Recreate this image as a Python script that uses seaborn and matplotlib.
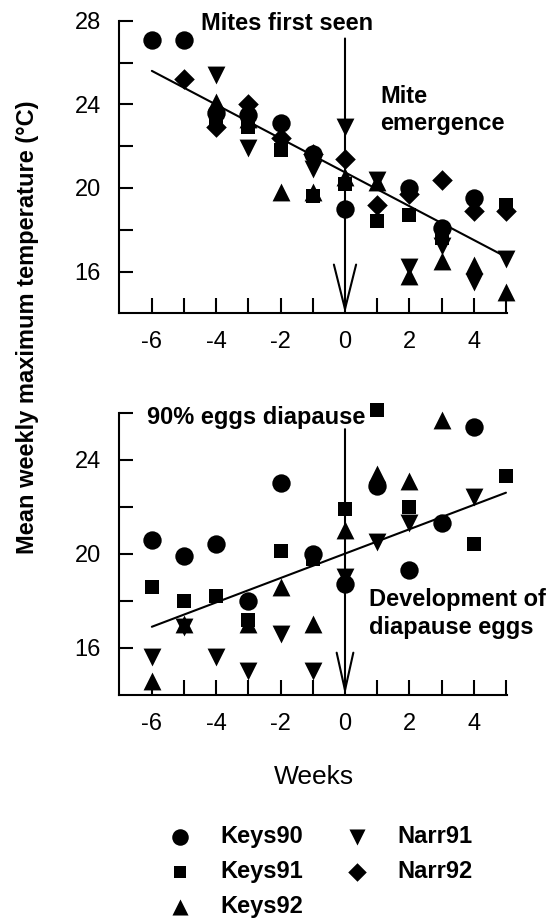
import numpy as np
import pandas as pd
import matplotlib
matplotlib.use('Agg')
import matplotlib.pyplot as plt
import seaborn as sns

nan = np.nan

# weeks relative to the event
weeks = [-6, -5, -4, -3, -2, -1, 0, 1, 2, 3, 4, 5]
week_labels = ['-6', '', '-4', '', '-2', '', '0', '', '2', '', '4', '']

series = ['Keys90', 'Keys91', 'Keys92', 'Narr91', 'Narr92']
markers = ['o', 's', '^', 'v', 'D']
sizes = [175, 100, 165, 165, 110]

# top panel: mites first seen / mite emergence
top_keys90 = [27.1, 27.1, 23.6, 23.5, 23.1, 21.6, 19.0, nan, 20.0, 18.1, 19.5, nan]
top_keys91 = [nan, nan, 23.3, 22.9, 21.8, 19.6, 20.2, 18.4, 18.7, 17.6, nan, 19.2]
top_keys92 = [nan, nan, 24.1, 23.3, 19.8, 19.8, 20.5, 20.3, 15.8, 16.5, 16.3, 15.0]
top_narr91 = [nan, nan, 25.4, 21.9, nan, 20.9, 22.9, 20.4, 16.2, 17.2, 15.5, 16.6]
top_narr92 = [nan, 25.2, 22.9, 24.0, 22.4, 21.6, 21.4, 19.2, 19.7, 20.4, 18.9, 18.9]
top_fit_x = [-6, 5]
top_fit_y = [25.6, 16.7]

# bottom panel: diapause eggs
bot_keys90 = [20.6, 19.9, 20.4, 18.0, 23.0, 20.0, 18.7, 22.9, 19.3, 21.3, 25.4, nan]
bot_keys91 = [18.6, 18.0, 18.2, 17.2, 20.1, 19.8, 21.9, 26.1, 22.0, nan, 20.4, 23.3]
bot_keys92 = [14.6, 17.0, nan, 17.0, 18.6, 17.0, 21.0, 23.4, 23.1, 25.7, nan, nan]
bot_narr91 = [15.6, 16.9, 15.6, 15.0, 16.6, 15.0, 19.0, 20.5, 21.3, nan, 22.4, nan]
bot_narr92 = [nan] * 12
bot_fit_x = [-6, 5]
bot_fit_y = [16.9, 22.6]

top_data = dict(zip(series, [top_keys90, top_keys91, top_keys92, top_narr91, top_narr92]))
bot_data = dict(zip(series, [bot_keys90, bot_keys91, bot_keys92, bot_narr91, bot_narr92]))

sns.set_style('ticks')
plt.rcParams['font.family'] = ['Liberation Sans', 'DejaVu Sans']
plt.rcParams['text.color'] = 'black'
plt.rcParams['xtick.color'] = 'black'
plt.rcParams['ytick.color'] = 'black'
plt.rcParams['axes.edgecolor'] = 'black'

fig = plt.figure(figsize=(5.51, 9.21), dpi=100)
ax_top = fig.add_axes([0.216, 0.6598, 0.704, 0.3177])
ax_bot = fig.add_axes([0.216, 0.2454, 0.704, 0.3065])


def draw_panel(ax, data, fit_x, fit_y, ylim, yticks, arrow_top, head):
    for name, m, s in zip(series, markers, sizes):
        vals = data[name]
        if np.all(np.isnan(vals)):
            continue
        sns.scatterplot(x=weeks, y=vals, marker=m, s=s, color='black',
                        linewidth=0, ax=ax, legend=False, label=name,
                        zorder=3, clip_on=False)
    sns.lineplot(x=fit_x, y=fit_y, color='black', linewidth=1.5, ax=ax, legend=False)
    ax.annotate('', xy=(0, ylim[0]), xytext=(0, arrow_top),
                arrowprops=dict(arrowstyle='->,head_length=%s,head_width=%s' % head,
                                lw=1.5, color='black', mutation_scale=10,
                                shrinkA=0, shrinkB=0))
    ax.set_xlim(-7.02, 5.03)
    ax.set_ylim(*ylim)
    ax.set_xticks(weeks)
    ax.set_xticklabels(week_labels)
    ax.set_yticks(yticks)
    ax.set_yticklabels([str(t) if t % 4 == 0 else '' for t in yticks])
    ax.tick_params(axis='x', direction='in', length=11, width=1.5, labelsize=17,
                   pad=13, colors='black')
    ax.tick_params(axis='y', direction='in', length=10, width=1.5, labelsize=17,
                   pad=13, colors='black')
    sns.despine(ax=ax)
    for sp in ['left', 'bottom']:
        ax.spines[sp].set_linewidth(1.5)
        ax.spines[sp].set_color('black')
    ax.set_xlabel('')
    ax.set_ylabel('')
    if ax.get_legend() is not None:
        ax.get_legend().remove()


draw_panel(ax_top, top_data, top_fit_x, top_fit_y, (14, 28),
           [16, 18, 20, 22, 24, 26, 28], 27.15, (3.2, 0.8))
draw_panel(ax_bot, bot_data, bot_fit_x, bot_fit_y, (14, 26),
           [16, 18, 20, 22, 24, 26], 25.3, (2.7, 0.6))

bold = dict(fontsize=17, fontweight='bold', color='black')
ax_top.text(-1.8, 27.56, 'Mites first seen', ha='center', va='baseline', clip_on=False, **bold)
ax_top.text(1.1, 24.05, 'Mite', ha='left', va='baseline', **bold)
ax_top.text(1.1, 22.75, 'emergence', ha='left', va='baseline', **bold)
ax_bot.text(-6.15, 25.52, '90% eggs diapause', ha='left', va='baseline', clip_on=False, **bold)
ax_bot.text(0.75, 17.77, 'Development of', ha='left', va='baseline', **bold)
ax_bot.text(0.75, 16.61, 'diapause eggs', ha='left', va='baseline', **bold)

fig.text(314 / 551, 1 - 784 / 921, 'Weeks', ha='center', va='baseline', fontsize=19)
fig.text(27.5 / 551, 1 - 327.5 / 921, 'Mean weekly maximum temperature (°C)',
         rotation=90, ha='center', va='center', fontsize=17, fontweight='bold')

handles, labels = ax_top.get_legend_handles_labels()
fig.legend(handles, labels, ncol=2, loc='upper left', bbox_to_anchor=(0.305, 0.104),
           frameon=False, prop=dict(size=17, weight='bold'), handlelength=1.0,
           handletextpad=1.2, columnspacing=1.8, labelspacing=0.5,
           borderpad=0, borderaxespad=0, markerscale=0.9)

fig.savefig('out.png', dpi=100, facecolor='white')
